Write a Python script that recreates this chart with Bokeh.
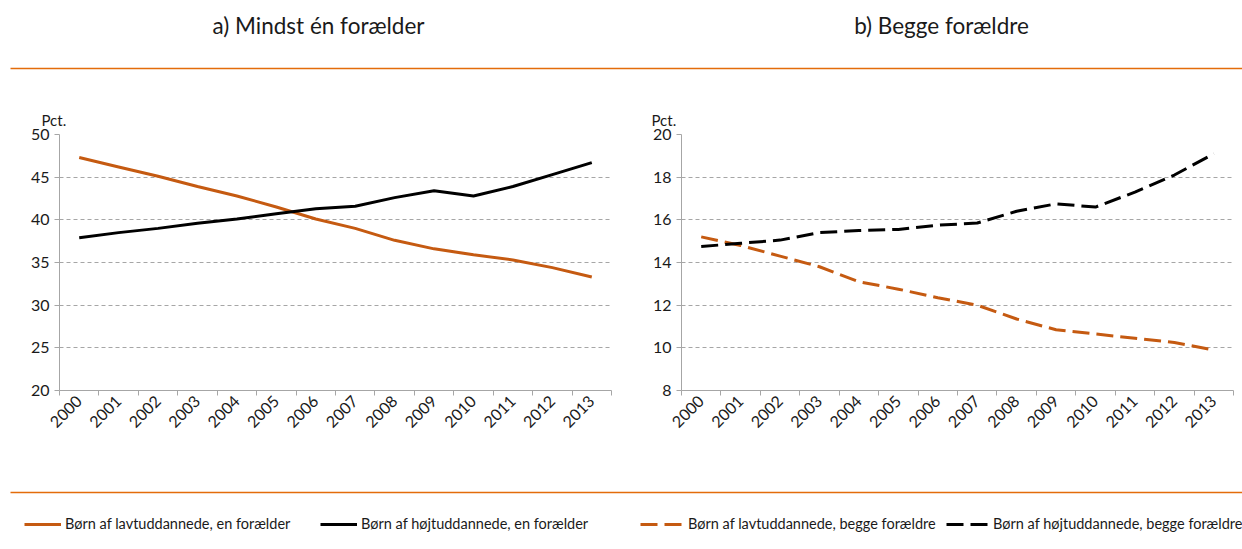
from bokeh.plotting import figure
from bokeh.models import (Range1d, FixedTicker, Label, BoxAnnotation, Legend, LegendItem, Title)
from bokeh.layouts import row, column
from bokeh.embed import file_html
from bokeh.resources import INLINE
from math import pi

years = list(range(2000, 2014))
low_one = [47.3, 46.2, 45.1, 43.9, 42.8, 41.5, 40.1, 39.0, 37.6, 36.6, 35.9, 35.3, 34.4, 33.3]
high_one = [37.9, 38.5, 39.0, 39.6, 40.1, 40.7, 41.3, 41.6, 42.6, 43.4, 42.8, 43.9, 45.3, 46.7]
low_both = [15.2, 14.8, 14.3, 13.8, 13.1, 12.75, 12.35, 12.0, 11.35, 10.85, 10.65, 10.45, 10.25, 9.9]
high_both = [14.75, 14.9, 15.05, 15.4, 15.5, 15.55, 15.75, 15.85, 16.4, 16.75, 16.6, 17.3, 18.1, 19.1]

title_a = "a) Mindst én forælder"
title_b = "b) Begge forældre"
unit = "Pct."
labels = ["Børn af lavtuddannede, en forælder", "Børn af højtuddannede, en forælder",
          "Børn af lavtuddannede, begge forældre", "Børn af højtuddannede, begge forældre"]

ORANGE = "#C55A11"
RULE = "#E36C0A"
GRID = "#A6A6A6"
FONT = "Lato"
TXT = "#1a1a1a"
W = 1242
TOP_H = 78
MID_H = 392
BOT_H = 79
DASH = "17 7"


def strip(h):
    p = figure(width=W, height=h, output_backend="svg", toolbar_location=None,
               x_axis_type=None, y_axis_type=None, min_border=0,
               x_range=Range1d(0, 1), y_range=Range1d(0, 1))
    p.outline_line_color = None
    p.grid.visible = False
    return p


def rule(p, y_from_top, h):
    yb = h - y_from_top
    p.add_layout(BoxAnnotation(left=10, right=W, top=yb + 0.8, bottom=yb - 0.8,
                               left_units="screen", right_units="screen",
                               top_units="screen", bottom_units="screen",
                               fill_color=RULE, fill_alpha=1.0, line_color=None))


# ---- top strip: titles + rule (page y 0..78)
ptop = strip(TOP_H)
for txt, cx in ((title_a, 318), (title_b, 941)):
    ptop.add_layout(Label(x=cx, y=TOP_H - 25, x_units="screen", y_units="screen", text=txt,
                          text_font=FONT, text_font_size="22.5px", text_color=TXT,
                          text_align="center", text_baseline="middle"))
rule(ptop, 68, TOP_H)


# ---- middle row: the two charts (page y 78..470)
def make_fig(width, ylo, yhi, yticks, bl, br, bt, bb, unit_offset):
    p = figure(width=width, height=MID_H, output_backend="svg", toolbar_location=None,
               x_range=Range1d(1999.5, 2013.5), y_range=Range1d(ylo, yhi),
               min_border_left=bl, min_border_right=br, min_border_top=bt, min_border_bottom=bb)
    p.outline_line_color = None
    p.xgrid.visible = False
    p.ygrid.grid_line_color = GRID
    p.ygrid.grid_line_dash = "4 3"
    p.ygrid.grid_line_width = 1
    xa = p.xaxis[0]
    xa.ticker = FixedTicker(ticks=years, minor_ticks=[y - 0.5 for y in years] + [years[-1] + 0.5])
    xa.major_tick_out = 0
    xa.major_tick_in = 0
    xa.minor_tick_out = 5
    xa.minor_tick_in = 0
    xa.minor_tick_line_color = GRID
    xa.axis_line_color = GRID
    xa.major_label_orientation = pi / 4
    xa.major_label_text_font = FONT
    xa.major_label_text_font_size = "16px"
    xa.major_label_text_color = TXT
    xa.major_label_standoff = 3
    ya = p.yaxis[0]
    ya.ticker = FixedTicker(ticks=yticks)
    ya.minor_tick_line_color = None
    ya.major_tick_out = 5
    ya.major_tick_in = 0
    ya.major_tick_line_color = GRID
    ya.axis_line_color = GRID
    ya.major_label_text_font = FONT
    ya.major_label_text_font_size = "16px"
    ya.major_label_text_color = TXT
    ya.major_label_standoff = 5
    p.add_layout(Title(text=unit, align="left", offset=unit_offset, standoff=12,
                       text_font=FONT, text_font_size="15px", text_font_style="normal",
                       text_color=TXT), "above")
    return p


p1 = make_fig(629, 20, 50, [20, 25, 30, 35, 40, 45, 50], 59, 18, 56, 72, -18)
p1.line(years, low_one, line_color=ORANGE, line_width=3)
p1.line(years, high_one, line_color="black", line_width=3)

p2 = make_fig(613, 8, 20, [8, 10, 12, 14, 16, 18, 20], 52, 9, 56, 80, -30)
p2.line(years, low_both, line_color=ORANGE, line_width=3, line_dash=DASH)
p2.line(years, high_both, line_color="black", line_width=3, line_dash=DASH)

# ---- bottom strip: rule + legend (page y 470..549)
pbot = strip(BOT_H)
rule(pbot, 492 - 470, BOT_H)
series = [low_one, high_one, low_both, high_both]
styles = [(ORANGE, "solid"), ("black", "solid"), (ORANGE, DASH), ("black", DASH)]
lxs = [24, 320, 640, 946]
gws = [37, 37, 44, 43]
for lab, ys, (col, dash), lx, gw in zip(labels, series, styles, lxs, gws):
    # legend proxy: same series, lying outside this strip's ranges, so only its legend sample shows
    r = pbot.line(years, ys, line_color=col, line_width=3, line_dash=dash)
    lg = Legend(items=[LegendItem(label=lab, renderers=[r])],
                location=(lx, 17), orientation="horizontal",
                padding=0, margin=0, border_line_color=None, background_fill_alpha=0,
                glyph_width=gw, glyph_height=14, label_height=14, label_standoff=4,
                label_text_font=FONT, label_text_font_size="14.5px", label_text_color=TXT)
    pbot.add_layout(lg)

layout = column(ptop, row(p1, p2), pbot)
open("out.html", "w").write(file_html(layout, INLINE))
